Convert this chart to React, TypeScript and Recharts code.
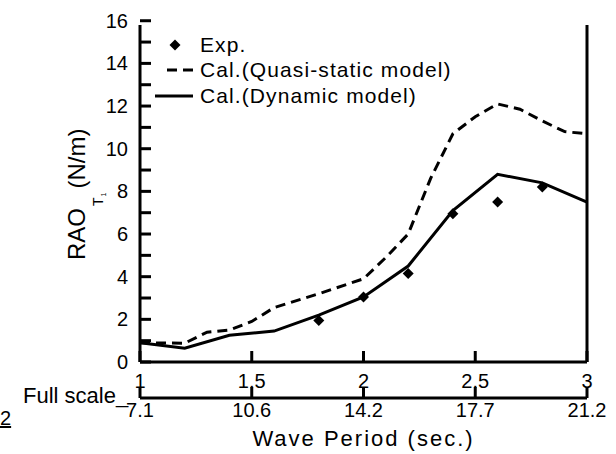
import React from 'react';
import {
  ComposedChart,
  Line,
  Scatter,
  XAxis,
  YAxis,
  Legend,
  Label,
  Customized,
} from 'recharts';

// model-scale wave period (sec.)
const xTicks = [1, 1.5, 2, 2.5, 3];
const fullScaleLabels = ['7.1', '10.6', '14.2', '17.7', '21.2'];
const yTicks = [0, 1, 2, 3, 4, 5, 6, 7, 8, 9, 10, 11, 12, 13, 14, 15, 16];

const expPeriod = [1.8, 2.0, 2.2, 2.4, 2.6, 2.8];
const expRao = [1.95, 3.05, 4.15, 6.95, 7.5, 8.2];

const quasiPeriod = [1.0, 1.2, 1.3, 1.4, 1.5, 1.6, 1.8, 2.0, 2.1, 2.2, 2.3, 2.4, 2.5, 2.6, 2.7, 2.8, 2.9, 3.0];
const quasiRao = [0.9, 0.88, 1.4, 1.5, 1.9, 2.55, 3.2, 3.9, 4.9, 6.0, 8.6, 10.7, 11.5, 12.1, 11.85, 11.3, 10.8, 10.7];

const dynPeriod = [1.0, 1.2, 1.4, 1.6, 1.8, 2.0, 2.2, 2.4, 2.6, 2.8, 3.0];
const dynRao = [0.9, 0.65, 1.25, 1.45, 2.2, 3.05, 4.5, 7.1, 8.8, 8.4, 7.5];

const legendNames = ['Exp.', 'Cal.(Quasi-static model)', 'Cal.(Dynamic model)'];

const FONT = '"Liberation Sans", Arial, sans-serif';

const expData = expPeriod.map((x, i) => ({ x, y: expRao[i] }));
const quasiData = quasiPeriod.map((x, i) => ({ x, y: quasiRao[i] }));
const dynData = dynPeriod.map((x, i) => ({ x, y: dynRao[i] }));

const axisLine = { stroke: '#000', strokeWidth: 3 };
const tickLine = { stroke: '#000', strokeWidth: 3 };
const tickStyle = { fontSize: 20, fill: '#000', fontFamily: FONT };

const Diamond = (props: any) => {
  const { cx, cy } = props;
  const r = 5.5;
  return <polygon points={`${cx},${cy - r} ${cx + r},${cy} ${cx},${cy + r} ${cx - r},${cy}`} fill="#000" />;
};

const renderLegend = () => (
  <div style={{ fontFamily: FONT, fontSize: 21, letterSpacing: 1.1, color: '#000' }}>
    {legendNames.map((name, i) => (
      <div key={name} style={{ display: 'flex', alignItems: 'center', height: 25.5, whiteSpace: 'nowrap' }}>
        <svg width={50} height={26} style={{ flex: 'none' }}>
          {i === 0 && <polygon points="25,7.5 30.5,13 25,18.5 19.5,13" fill="#000" />}
          {i === 1 && <line x1={17} x2={43} y1={13} y2={13} stroke="#000" strokeWidth={3} strokeDasharray="10 6" />}
          {i === 2 && <line x1={5} x2={43} y1={13} y2={13} stroke="#000" strokeWidth={3} />}
        </svg>
        <span>{name}</span>
      </div>
    ))}
  </div>
);

const Annotations = () => (
  <g fontFamily={FONT} fill="#000">
    <text transform="rotate(-90, 85, 260)" x={85} y={260} fontSize={24}>
      RAO
      <tspan fontSize={14} dx={2} dy={18}>T</tspan>
      <tspan fontSize={7} dx={1} dy={3}>1</tspan>
      <tspan fontSize={24} dx={4} dy={-21}>(N/m)</tspan>
    </text>
    <text x={23} y={403} fontSize={22}>Full scale_</text>
    <text x={0} y={425} fontSize={20} textDecoration="underline">2</text>
  </g>
);

export default function App() {
  return (
    <div style={{ position: 'absolute', left: 0, top: 0, background: '#fff' }}>
      <ComposedChart width={616} height={454} margin={{ top: 25, right: 28, bottom: 0, left: 100 }}>
        <XAxis
          xAxisId="x1main"
          dataKey="x"
          type="number"
          domain={[1, 3]}
          allowDataOverflow
          ticks={xTicks}
          height={36}
          axisLine={axisLine}
          tickLine={tickLine}
          tickSize={-11}
          tickMargin={23}
          tick={tickStyle}
          interval={0}
        />
        <XAxis
          xAxisId="x2full"
          dataKey="x"
          type="number"
          domain={[1, 3]}
          allowDataOverflow
          ticks={xTicks}
          height={56}
          axisLine={axisLine}
          tickLine={tickLine}
          tickSize={-11}
          tickMargin={16}
          tick={tickStyle}
          tickFormatter={(v: number) => fullScaleLabels[xTicks.indexOf(v)]}
          interval={0}
        >
          <Label
            value="Wave Period (sec.)"
            position="insideTop"
            offset={32}
            fontSize={22}
            fontFamily={FONT}
            fill="#000"
            letterSpacing={2}
          />
        </XAxis>
        <XAxis
          xAxisId="x3top"
          orientation="top"
          dataKey="x"
          type="number"
          domain={[1, 3]}
          allowDataOverflow
          ticks={xTicks}
          height={0}
          axisLine={axisLine}
          tickLine={tickLine}
          tickSize={-11}
          tick={false}
          interval={0}
        />
        <YAxis
          yAxisId="left"
          type="number"
          domain={[0, 15.8]}
          allowDataOverflow
          ticks={yTicks}
          width={40}
          axisLine={axisLine}
          tickLine={tickLine}
          tickSize={-11}
          tickMargin={23}
          tick={tickStyle}
          tickFormatter={(v: number) => (v % 2 === 0 ? String(v) : '')}
          interval={0}
        />
        <YAxis
          yAxisId="right"
          orientation="right"
          type="number"
          domain={[0, 15.8]}
          allowDataOverflow
          ticks={yTicks}
          width={1}
          axisLine={axisLine}
          tickLine={tickLine}
          tickSize={-11}
          tick={false}
          interval={0}
        />
        <Legend
          layout="vertical"
          align="center"
          verticalAlign="middle"
          content={renderLegend}
          wrapperStyle={{ position: 'absolute', left: 150, top: 32, width: 400 }}
        />
        <Line
          xAxisId="x1main"
          yAxisId="left"
          data={quasiData}
          dataKey="y"
          type="linear"
          stroke="#000"
          strokeWidth={3}
          strokeDasharray="10 6"
          dot={false}
          isAnimationActive={false}
        />
        <Line
          xAxisId="x1main"
          yAxisId="left"
          data={dynData}
          dataKey="y"
          type="linear"
          stroke="#000"
          strokeWidth={3}
          dot={false}
          isAnimationActive={false}
        />
        <Scatter
          xAxisId="x1main"
          yAxisId="left"
          data={expData}
          dataKey="y"
          shape={<Diamond />}
          isAnimationActive={false}
        />
        <Customized component={<Annotations />} />
      </ComposedChart>
    </div>
  );
}
